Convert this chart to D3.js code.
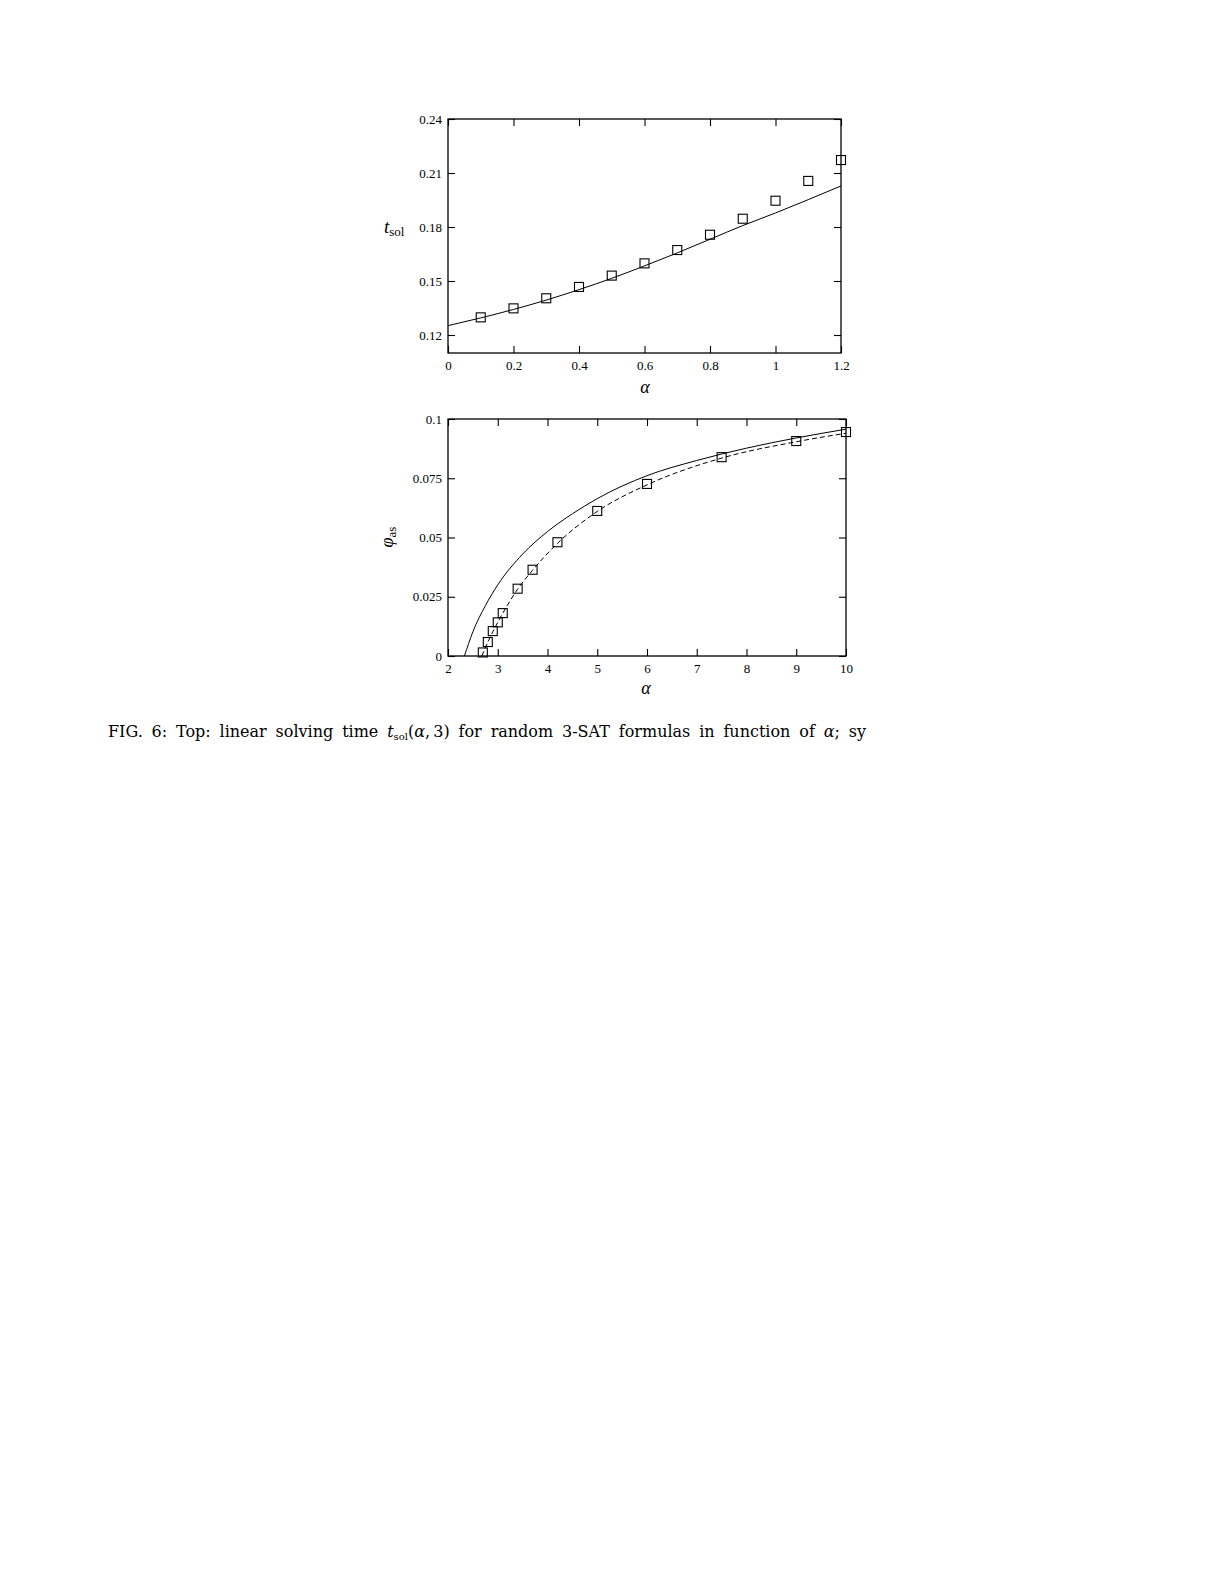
<!DOCTYPE html>
<html>
<head>
<meta charset="utf-8">
<script src="https://cdn.jsdelivr.net/npm/d3@7"></script>
<style>
  body { margin: 0; background: #fff; }
  text { font-family: "Liberation Serif", "DejaVu Serif", serif; fill: #000; }
</style>
</head>
<body>
<div id="my_dataviz"></div>
<script>

// top panel : solving time
var topAlpha = [0.1, 0.2, 0.3, 0.4, 0.5, 0.6, 0.7, 0.8, 0.9, 1.0, 1.1, 1.2];
var topTsol = [0.1298, 0.1348, 0.1404, 0.1467, 0.1530, 0.1598, 0.1672, 0.1757, 0.1846, 0.1946, 0.2056, 0.2172];
var topCurveAlpha = [0, 0.1, 0.2, 0.3, 0.4, 0.5, 0.6, 0.7, 0.8, 0.9, 1.0, 1.1, 1.2];
var topCurveTsol = [0.1252, 0.1295, 0.1342, 0.1394, 0.1452, 0.1515, 0.1584, 0.1656, 0.1732, 0.1808, 0.1878, 0.1952, 0.2028];
var topXTicks = [0, 0.2, 0.4, 0.6, 0.8, 1, 1.2];
var topYTicks = [0.12, 0.15, 0.18, 0.21, 0.24];

// bottom panel : phi_as
var botAlpha = [2.7, 2.8, 2.9, 3.0, 3.1, 3.4, 3.7, 4.2, 5, 6, 7.5, 9, 10];
var botPhi = [0.0015, 0.0059, 0.0105, 0.0142, 0.0181, 0.0284, 0.0364, 0.0480, 0.0612, 0.0726, 0.0839, 0.0907, 0.0945];
var solidAlpha = [2.33, 2.5, 2.75, 3.0, 3.5, 4, 4.5, 5, 6, 7, 8, 9, 10];
var solidPhi = [0, 0.0102, 0.0212, 0.0300, 0.0430, 0.0525, 0.0600, 0.0664, 0.0761, 0.0825, 0.0877, 0.0920, 0.0957];
var dashAlpha = [2.68, 2.8, 2.9, 3.0, 3.1, 3.4, 3.7, 4.2, 5, 6, 7.5, 9, 10];
var dashPhi = [0, 0.0058, 0.0102, 0.0142, 0.0180, 0.0282, 0.0362, 0.0475, 0.0610, 0.0722, 0.0835, 0.0904, 0.0940];
var botXTicks = [2, 3, 4, 5, 6, 7, 8, 9, 10];
var botYTicks = [0, 0.025, 0.05, 0.075, 0.1];

var caption = "FIG. 6: Top: linear solving time t_sol(α,3) for random 3-SAT formulas in function of α; sy";

var svg = d3.select("#my_dataviz")
  .append("svg")
    .attr("width", 1225)
    .attr("height", 1585);

svg.append("rect")
  .attr("width", 1225)
  .attr("height", 1585)
  .attr("fill", "#fff");

// draw one framed panel with inward ticks on all four sides
function panel(box, xDom, yDom, xTicks, yTicks) {
  var g = svg.append("g")
    .attr("transform", "translate(" + box.left + "," + box.top + ")");

  var x = d3.scaleLinear().domain(xDom).range([0, box.width]);
  var y = d3.scaleLinear().domain(yDom).range([box.height, 0]);
  var fmt = function(d) { return String(d); };

  g.append("g")
    .attr("transform", "translate(0," + box.height + ")")
    .call(d3.axisBottom(x).tickValues(xTicks).tickSize(-7).tickPadding(8).tickFormat(fmt));
  g.append("g")
    .call(d3.axisTop(x).tickValues(xTicks).tickSize(-7).tickFormat(""));
  g.append("g")
    .call(d3.axisLeft(y).tickValues(yTicks).tickSize(-7).tickPadding(6).tickFormat(fmt));
  g.append("g")
    .attr("transform", "translate(" + box.width + ",0)")
    .call(d3.axisRight(y).tickValues(yTicks).tickSize(-7).tickFormat(""));

  g.selectAll(".domain").remove();
  g.selectAll(".tick line").attr("stroke", "#000").attr("stroke-width", 1.1);
  g.selectAll(".tick text")
    .style("font-family", "'Liberation Serif', serif")
    .style("font-size", "13px")
    .attr("fill", "#000");

  g.append("rect")
    .attr("width", box.width)
    .attr("height", box.height)
    .attr("fill", "none")
    .attr("stroke", "#000")
    .attr("stroke-width", 1.3);

  return { g: g, x: x, y: y };
}

function squares(p, xs, ys) {
  p.g.append("g")
    .selectAll("rect")
    .data(xs)
    .enter().append("rect")
      .attr("x", function(d) { return p.x(d) - 4.5; })
      .attr("y", function(d, i) { return p.y(ys[i]) - 4.5; })
      .attr("width", 9)
      .attr("height", 9)
      .attr("fill", "none")
      .attr("stroke", "#000")
      .attr("stroke-width", 1.1);
}

function curve(p, xs, ys, dash) {
  var line = d3.line()
    .x(function(d) { return p.x(d); })
    .y(function(d, i) { return p.y(ys[i]); })
    .curve(d3.curveMonotoneX);
  p.g.append("path")
    .attr("d", line(xs))
    .attr("fill", "none")
    .attr("stroke", "#000")
    .attr("stroke-width", 1)
    .attr("stroke-dasharray", dash || null);
}

// Top plot
var topPanel = panel({left: 448, top: 119, width: 393, height: 234}, [0, 1.2], [0.11, 0.24], topXTicks, topYTicks);
curve(topPanel, topCurveAlpha, topCurveTsol);
squares(topPanel, topAlpha, topTsol);

// Bottom plot
var botPanel = panel({left: 448, top: 419, width: 398, height: 237}, [2, 10], [0, 0.1], botXTicks, botYTicks);
curve(botPanel, solidAlpha, solidPhi);
curve(botPanel, dashAlpha, dashPhi, "5,3");
squares(botPanel, botAlpha, botPhi);

// axis labels
svg.append("text")
  .attr("x", 645).attr("y", 393)
  .attr("text-anchor", "middle")
  .style("font-size", "18px").style("font-style", "italic")
  .text("α");
svg.append("text")
  .attr("x", 646).attr("y", 694)
  .attr("text-anchor", "middle")
  .style("font-size", "18px").style("font-style", "italic")
  .text("α");

var tl = svg.append("text").attr("x", 384).attr("y", 233).style("font-size", "19px");
tl.append("tspan").style("font-style", "italic").text("t");
tl.append("tspan").attr("dy", 3).style("font-size", "13px").text("sol");

var pl = svg.append("text")
  .attr("transform", "translate(393,537) rotate(-90)")
  .attr("text-anchor", "middle")
  .style("font-size", "18px");
pl.append("tspan").style("font-style", "italic").text("φ");
pl.append("tspan").attr("dy", 3).style("font-size", "13px").text("as");

// caption, spread out between the two ends like the typeset line
var words = caption.split(" ");
var cap = svg.append("g");
var nodes = [];
words.forEach(function(w) {
  var t = cap.append("text").attr("y", 737)
    .style("font-family", "'DejaVu Serif', serif")
    .style("font-size", "16px");
  if (w.indexOf("t_sol") === 0) {
    t.append("tspan").style("font-style", "italic").text("t");
    t.append("tspan").attr("dy", 3).style("font-size", "10px").text("sol");
    t.append("tspan").attr("dy", -3).text("(");
    t.append("tspan").style("font-style", "italic").text("α");
    t.append("tspan").text(",\u2009" + "3)");
  } else if (w.indexOf("α") === 0) {
    t.append("tspan").style("font-style", "italic").text("α");
    t.append("tspan").text(w.slice(1));
  } else {
    t.text(w);
  }
  nodes.push(t);
});
var widths = nodes.map(function(t) { return t.node().getComputedTextLength(); });
var total = d3.sum(widths);
var gap = (866 - 108 - total) / (nodes.length - 1);
var cx = 108;
nodes.forEach(function(t, i) {
  t.attr("x", cx);
  cx += widths[i] + gap;
});

</script>
</body>
</html>
